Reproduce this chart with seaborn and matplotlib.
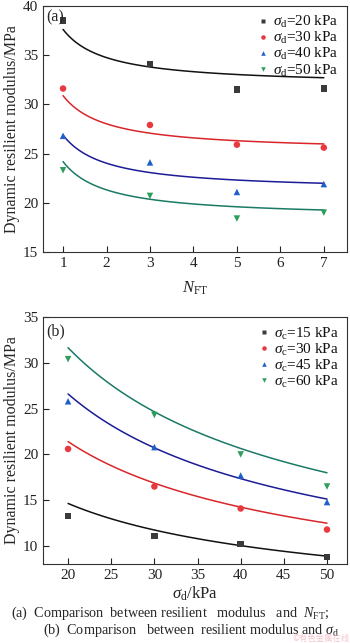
import numpy as np
import pandas as pd
import matplotlib
matplotlib.use("Agg")
import matplotlib.pyplot as plt
import seaborn as sns

# ---- data: panel (a) ----
nft = [1, 3, 5, 7]
a_labels = ["20", "30", "40", "50"]
a_sd20 = [38.5, 34.1, 31.5, 31.6]
a_sd30 = [31.6, 27.9, 25.9, 25.6]
a_sd40 = [26.8, 24.1, 21.1, 21.9]
a_sd50 = [23.3, 20.7, 18.4, 19.0]
# fitted curves y = c0 + c1 / N
a_fit_c0 = [31.88, 25.16, 21.17, 18.45]
a_fit_c1 = [5.72, 5.72, 5.70, 5.73]

# ---- data: panel (b) ----
sigd = [20, 30, 40, 50]
b_labels = ["15", "30", "45", "60"]
b_sc15 = [13.3, 11.1, 10.2, 8.8]
b_sc30 = [20.6, 16.5, 14.1, 11.8]
b_sc45 = [25.8, 20.8, 17.7, 14.8]
b_sc60 = [30.4, 24.3, 20.0, 16.5]
# fitted curves y = k * (x/20)^p
b_fit_k = [14.65, 21.4, 26.6, 31.65]
b_fit_p = [-0.544, -0.587, -0.616, -0.616]

marker_colors = ["#3a3a3a", "#e8393f", "#1f5fc9", "#2e9e5b"]
line_colors = ["#111111", "#d8262a", "#1c1c96", "#1a7a66"]
markers = ["s", "o", "^", "v"]

sns.set_style("ticks")
plt.rcParams["font.family"] = ["Liberation Serif", "DejaVu Serif"]
plt.rcParams["mathtext.fontset"] = "custom"
plt.rcParams["mathtext.rm"] = "Liberation Serif"
plt.rcParams["mathtext.it"] = "Liberation Serif:italic"
plt.rcParams["mathtext.bf"] = "Liberation Serif:bold"
plt.rcParams["xtick.direction"] = "in"
plt.rcParams["ytick.direction"] = "in"

fig = plt.figure(figsize=(3.5, 6.43), dpi=100)
ax1 = fig.add_axes([0.123, 0.608, 0.868, 0.383])
ax2 = fig.add_axes([0.123, 0.123, 0.868, 0.384])

# panel a dataframe
rows = []
for lab, vals in zip(a_labels, [a_sd20, a_sd30, a_sd40, a_sd50]):
    for x, y in zip(nft, vals):
        rows.append({"x": x, "y": y, "s": r"$\sigma_{\rm d}$=" + lab + " kPa"})
dfa = pd.DataFrame(rows)
fit_rows = []
xx = np.linspace(min(nft), max(nft), 100)
for lab, c0, c1 in zip(a_labels, a_fit_c0, a_fit_c1):
    for x in xx:
        fit_rows.append({"x": x, "y": c0 + c1 / x, "s": lab})
dfa_fit = pd.DataFrame(fit_rows)

sns.lineplot(data=dfa_fit, x="x", y="y", hue="s", palette=line_colors,
             ax=ax1, legend=False, linewidth=1.1)
sns.scatterplot(data=dfa, x="x", y="y", hue="s", style="s",
                palette=marker_colors, markers=markers, s=22,
                edgecolor="none", ax=ax1, zorder=3)

rows = []
for lab, vals in zip(b_labels, [b_sc15, b_sc30, b_sc45, b_sc60]):
    for x, y in zip(sigd, vals):
        rows.append({"x": x, "y": y, "s": r"$\sigma_{\rm c}$=" + lab + " kPa"})
dfb = pd.DataFrame(rows)
fit_rows = []
xx = np.linspace(min(sigd), max(sigd), 100)
for lab, k, p in zip(b_labels, b_fit_k, b_fit_p):
    for x in xx:
        fit_rows.append({"x": x, "y": k * (x / 20.0) ** p, "s": lab})
dfb_fit = pd.DataFrame(fit_rows)

sns.lineplot(data=dfb_fit, x="x", y="y", hue="s", palette=line_colors,
             ax=ax2, legend=False, linewidth=1.1)
sns.scatterplot(data=dfb, x="x", y="y", hue="s", style="s",
                palette=marker_colors, markers=markers, s=22,
                edgecolor="none", ax=ax2, zorder=3)

for ax in (ax1, ax2):
    for sp in ax.spines.values():
        sp.set_visible(True)
        sp.set_linewidth(0.8)
        sp.set_color("#333333")
    ax.tick_params(labelsize=11, length=4, width=0.8, colors="#222222")
    leg = ax.legend(loc="upper right", frameon=False, fontsize=11,
                    handletextpad=0.15, labelspacing=0.0, borderaxespad=0.15,
                    markerscale=0.7, handlelength=1.0)
    for t in leg.get_texts():
        t.set_color("#111111")
    ax.set_ylabel("Dynamic resilient modulus/MPa", fontsize=11.5, labelpad=2)

ax1.set_xlim(0.54, 7.53)
ax1.set_ylim(15, 40)
ax1.set_xticks([1, 2, 3, 4, 5, 6, 7])
ax1.set_yticks([15, 20, 25, 30, 35, 40])
ax1.set_xlabel(r"$N_{\rm FT}$", fontsize=12, labelpad=7)
ax1.text(0.01, 0.985, "(a)", transform=ax1.transAxes, fontsize=11.5,
         va="top", ha="left")

ax2.set_xlim(17.1, 52.3)
ax2.set_ylim(8.05, 35)
ax2.set_xticks([20, 25, 30, 35, 40, 45, 50])
ax2.set_yticks([10, 15, 20, 25, 30, 35])
ax2.set_xlabel(r"$\sigma_{\rm d}$/kPa", fontsize=12, labelpad=2)
ax2.text(0.01, 0.975, "(b)", transform=ax2.transAxes, fontsize=11.5,
         va="top", ha="left")

fig.text(0.485, 0.046, r"(a)  Comparison  between resilient   modulus   and  $N_{\rm FT}$;",
         ha="center", va="center", fontsize=10.2)
fig.text(0.545, 0.019, r"(b)  Comparison   between  resilient modulus and $\sigma_{\rm d}$",
         ha="center", va="center", fontsize=10.2)
fig.text(0.998, 0.0, "©有色金属在线", ha="right", va="bottom", fontsize=6,
         color="#f2b8c0", family=["Noto Sans CJK SC", "DejaVu Sans"], alpha=0.8)

fig.savefig("out.png", dpi=100)
